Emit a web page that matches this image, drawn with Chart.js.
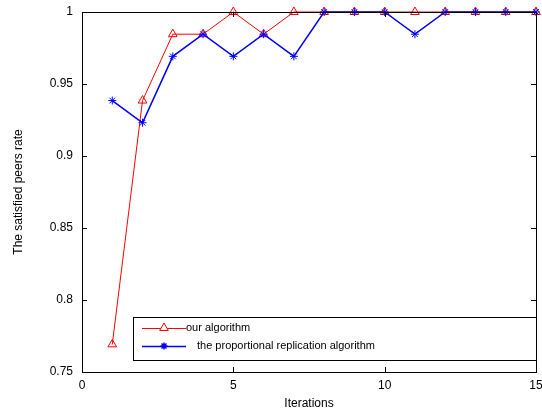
<!DOCTYPE html>
<html>
<head>
<meta charset="utf-8">
<script src="https://cdn.jsdelivr.net/npm/chart.js@4.4.0/dist/chart.umd.min.js"></script>
<style>
  html, body { margin: 0; padding: 0; background: #fff; }
</style>
</head>
<body>
<canvas id="chart" width="542" height="414"></canvas>
<script>
// données
const iterations = [1, 2, 3, 4, 5, 6, 7, 8, 9, 10, 11, 12, 13, 14, 15];
const ourAlgorithm = [0.7692, 0.9385, 0.9846, 0.9846, 1, 0.9846, 1, 1, 1, 1, 1, 1, 1, 1, 1];
const proportionalReplication = [0.9385, 0.9231, 0.9692, 0.9846, 0.9692, 0.9846, 0.9692, 1, 1, 1, 0.9846, 1, 1, 1, 1];
const xTickValues = [0, 5, 10, 15];
const yTickValues = [0.75, 0.8, 0.85, 0.9, 0.95, 1];
const seriesLabels = ['our algorithm', 'the proportional replication algorithm'];

const FONT = { family: '"Liberation Sans", Arial, sans-serif', size: 12 };

function toPoints(ys) {
    return iterations.map((x, i) => ({ x: x, y: ys[i] }));
}

// cadre + graduations vers l'intérieur + légende encadrée
const framePlugin = {
    id: 'frame',
    afterDraw(chart) {
        const ctx = chart.ctx;
        const a = chart.chartArea;
        const xs = chart.scales.x, ys = chart.scales.y;
        ctx.save();
        ctx.strokeStyle = '#000';
        ctx.lineWidth = 1;
        ctx.beginPath();
        xTickValues.forEach(v => {
            const px = Math.round(xs.getPixelForValue(v)) + 0.5;
            ctx.moveTo(px, a.bottom); ctx.lineTo(px, a.bottom - 5);
            ctx.moveTo(px, a.top); ctx.lineTo(px, a.top + 5);
        });
        yTickValues.forEach(v => {
            const py = Math.round(ys.getPixelForValue(v)) + 0.5;
            ctx.moveTo(a.left, py); ctx.lineTo(a.left + 5, py);
            ctx.moveTo(a.right, py); ctx.lineTo(a.right - 5, py);
        });
        ctx.stroke();
        ctx.strokeRect(Math.round(a.left) + 0.5, Math.round(a.top) + 0.5,
            Math.round(a.right - a.left), Math.round(a.bottom - a.top));

        // légende
        const lx = 133, ly = 317, lw = a.right - 133, lh = 43;
        ctx.fillStyle = '#fff';
        ctx.fillRect(lx, ly, lw, lh);
        ctx.strokeRect(lx + 0.5, ly + 0.5, lw, lh);
        ctx.font = '11px ' + FONT.family;
        ctx.textBaseline = 'middle';
        chart.data.datasets.forEach((ds, i) => {
            const rowY = ly + 11 + i * 18;
            ctx.strokeStyle = ds.borderColor;
            ctx.lineWidth = ds.borderWidth;
            ctx.beginPath();
            ctx.moveTo(142, rowY + 0.5); ctx.lineTo(186, rowY + 0.5);
            ctx.stroke();
            Chart.helpers.drawPoint(ctx, {
                pointStyle: ds.pointStyle, radius: i === 0 ? ds.pointRadius : 3.5,
                borderWidth: 1, rotation: 0
            }, 164, rowY);
            ctx.fillStyle = '#000';
            ctx.fillText(ds.label, i === 0 ? 186 : 197, rowY);
        });
        ctx.restore();
    }
};

new Chart(document.getElementById('chart'), {
    type: 'line',
    data: {
        datasets: [
            {
                label: seriesLabels[0],
                data: toPoints(ourAlgorithm),
                borderColor: '#ff0000',
                backgroundColor: 'rgba(0,0,0,0)',
                borderWidth: 1,
                pointStyle: 'triangle',
                pointRadius: 5,
                pointBorderWidth: 1,
                clip: false,
                order: 2
            },
            {
                label: seriesLabels[1],
                data: toPoints(proportionalReplication),
                borderColor: '#0000ff',
                backgroundColor: 'rgba(0,0,0,0)',
                borderWidth: 1.5,
                pointStyle: 'star',
                pointRadius: 4,
                pointBorderWidth: 1,
                clip: false,
                order: 1
            }
        ]
    },
    options: {
        responsive: false,
        devicePixelRatio: 1,
        animation: false,
        layout: { padding: { top: 12, right: 5, left: 0, bottom: 0 } },
        plugins: { legend: { display: false }, tooltip: { enabled: false } },
        scales: {
            x: {
                type: 'linear', min: 0, max: 15,
                afterBuildTicks: s => { s.ticks = xTickValues.map(v => ({ value: v })); },
                afterFit: s => { s.height = 42; s.paddingLeft = 0; s.paddingRight = 0; },
                grid: { display: false, drawTicks: false },
                border: { display: false },
                ticks: { color: '#000', font: FONT, padding: 6, maxRotation: 0 },
                title: { display: true, text: 'Iterations', color: '#000', font: FONT, padding: 3 }
            },
            y: {
                type: 'linear', min: 0.75, max: 1,
                afterBuildTicks: s => { s.ticks = yTickValues.map(v => ({ value: v })); },
                afterFit: s => { s.width = 82; s.paddingTop = 0; s.paddingBottom = 0; },
                grid: { display: false, drawTicks: false },
                border: { display: false },
                ticks: {
                    color: '#000', font: FONT, padding: 9,
                    callback: v => String(+v.toFixed(2))
                },
                title: { display: true, text: 'The satisfied peers rate', color: '#000', font: FONT, padding: 11 }
            }
        }
    },
    plugins: [framePlugin]
});
</script>
</body>
</html>
